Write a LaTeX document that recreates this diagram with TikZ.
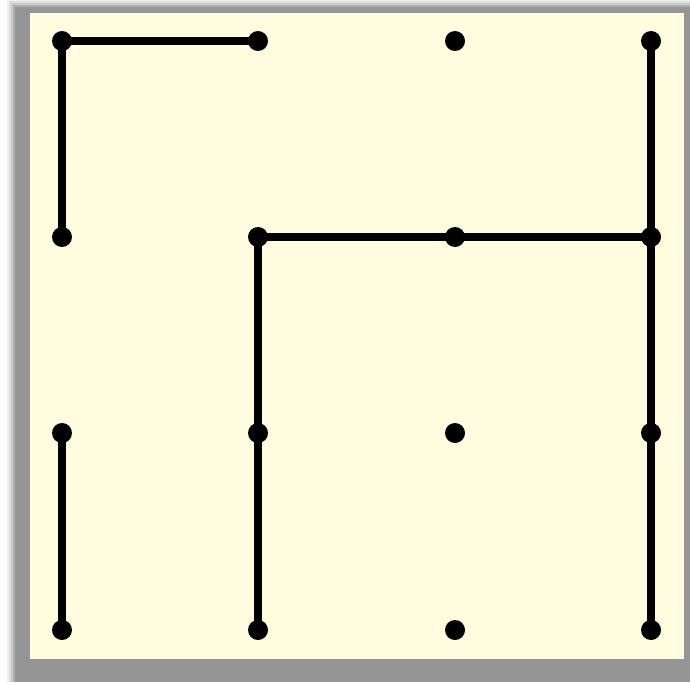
\documentclass[tikz,border=0pt]{standalone}
\begin{document}
\begin{tikzpicture}[x=1pt,y=-1pt,
  dot/.style={circle,fill=black,inner sep=0pt,minimum size=20pt},
  edge/.style={line width=8pt,black}]
\definecolor{cream}{HTML}{FFFCE0}
\definecolor{shade}{HTML}{959595}
\useasboundingbox (0,0) rectangle (690,682);
\fill[white] (0,0) rectangle (690,682);
% blurred shadow
\foreach \i/\o in {8/15,6/30,4/50,2/75,0/100}{
  \fill[shade!\o!white] (15-\i,7-\i) rectangle (690,682);
}
\fill[cream] (30,13) rectangle (684,659);
% dots
\foreach \c/\x in {0/62,1/258,2/455,3/651}{
  \foreach \r/\y in {0/41,1/237,2/433,3/630}{
    \node[dot] (n\c\r) at (\x,\y) {};
  }
}
\draw[edge] (n00.center) -- (n10.center);
\draw[edge] (n00.center) -- (n01.center);
\draw[edge] (n11.center) -- (n21.center);
\draw[edge] (n21.center) -- (n31.center);
\draw[edge] (n30.center) -- (n31.center);
\draw[edge] (n31.center) -- (n32.center);
\draw[edge] (n32.center) -- (n33.center);
\draw[edge] (n11.center) -- (n12.center);
\draw[edge] (n12.center) -- (n13.center);
\draw[edge] (n02.center) -- (n03.center);
\end{tikzpicture}
\end{document}
